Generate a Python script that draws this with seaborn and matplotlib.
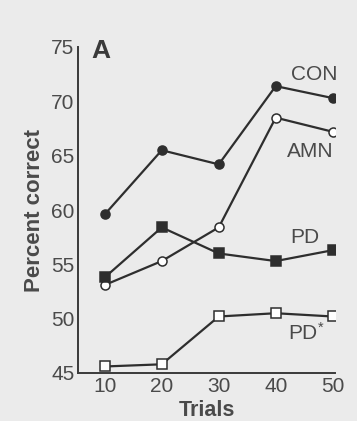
import matplotlib
matplotlib.use("Agg")
import matplotlib.pyplot as plt
import seaborn as sns
import pandas as pd

trials = [10, 20, 30, 40, 50]
con = [59.6, 65.5, 64.2, 71.4, 70.3]
amn = [53.1, 55.3, 58.4, 68.5, 67.2]
pd_ = [53.8, 58.4, 56.0, 55.3, 56.3]
pd_star = [45.6, 45.8, 50.2, 50.5, 50.2]
series_names = ["CON", "AMN", "PD", "PD*"]
yticks = [45, 50, 55, 60, 65, 70, 75]
xticks = [10, 20, 30, 40, 50]

sns.set_theme(style="white")
plt.rcParams['font.family'] = ['Liberation Sans', 'DejaVu Sans']

bg = "#ebebeb"
ink = "#2e2e2e"
txt = "#4a4a4a"

fig = plt.figure(figsize=(3.57, 4.21), dpi=100, facecolor=bg)
ax = fig.add_axes([78/357, 1-373/421, (335-78)/357, (373-47)/421])
ax.set_facecolor(bg)

df = pd.DataFrame({
    "Trials": trials * 4,
    "value": con + amn + pd_ + pd_star,
    "group": sum([[n]*5 for n in series_names], []),
})

styles = {
    "CON": dict(marker="o", mfc=ink),
    "AMN": dict(marker="o", mfc="white"),
    "PD": dict(marker="s", mfc=ink),
    "PD*": dict(marker="s", mfc="white"),
}
for name in series_names:
    sub = df[df.group == name]
    st = styles[name]
    sns.lineplot(data=sub, x="Trials", y="value", ax=ax, color=ink, lw=1.6,
                 marker=st["marker"], markersize=6.5, markerfacecolor=st["mfc"],
                 markeredgecolor=ink, markeredgewidth=1.1, legend=False)

ax.set_xlim(5.3, 50.4)
ax.set_ylim(45, 75)
ax.set_xticks(xticks)
ax.set_yticks(yticks)
for s in ["top", "right"]:
    ax.spines[s].set_visible(False)
for s in ["left", "bottom"]:
    ax.spines[s].set_color("#3a3a3a")
    ax.spines[s].set_linewidth(1.4)
ax.tick_params(axis="y", direction="inout", length=5, width=1.1, color="#3a3a3a",
               labelsize=15, labelcolor=txt, pad=0)
ax.tick_params(axis="x", direction="in", length=4, width=1.1, color="#3a3a3a",
               labelsize=15, labelcolor=txt, pad=3)

ax.set_xlabel("Trials", fontsize=15.5, fontweight="bold", color=txt, va="center")
ax.set_ylabel("Percent correct", fontsize=16, fontweight="bold", color=txt, va="center")
ax.yaxis.set_label_coords(-(78-35)/257, (373-211)/326)
ax.xaxis.set_label_coords(0.5, -(410-373)/326)

labels = {"CON": (46.8, 72.5), "AMN": (46.0, 65.35), "PD": (45.1, 57.5), "PD*": (45.4, 48.7)}
for name, (x, y) in labels.items():
    t = r"$\mathregular{PD^{*}}$" if name == "PD*" else name
    ax.text(x, y, t, fontsize=15, color=txt, ha="center", va="center")
ax.text(9.3, 74.6, "A", fontsize=19, fontweight="bold", color="#3a3a3a", ha="center", va="center")

fig.savefig("out.png", dpi=100, facecolor=bg)
